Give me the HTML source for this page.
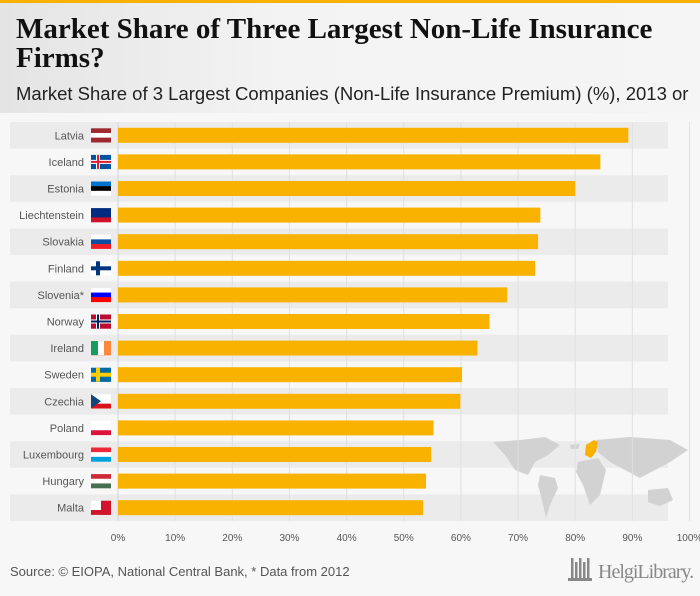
<!DOCTYPE html>
<html><head><meta charset="utf-8"><style>
body{margin:0;width:700px;height:596px;overflow:hidden;background:#f7f7f7;font-family:"Liberation Sans",sans-serif;position:relative}
#hdr{position:absolute;left:0;top:0;width:700px;height:113px;background:linear-gradient(90deg,#e4e4e4,#f3f3f3 40%,#f5f5f5);border-top:3px solid #f9b200;box-sizing:border-box}
h1{position:absolute;left:16px;top:12px;margin:0;font:bold 29px/29px "Liberation Serif",serif;color:#111;width:670px}
#sub{position:absolute;left:16px;top:80px;font-size:18.5px;color:#222;white-space:nowrap}
#foot{position:absolute;left:10px;top:564px;font-size:13px;color:#555}
#logo{position:absolute;left:598px;top:561px;font:20px "Liberation Serif",serif;color:#888;letter-spacing:-1px;white-space:nowrap}
</style></head><body>
<div id="hdr">
<h1>Market Share of Three Largest Non-Life Insurance Firms?</h1>
<div id="sub">Market Share of 3 Largest Companies (Non-Life Insurance Premium) (%), 2013 or</div>
</div>
<svg id="chart" width="700" height="596" style="position:absolute;left:0;top:0"></svg>
<div id="foot">Source: © EIOPA, National Central Bank, * Data from 2012</div>
<div id="logo">HelgiLibrary.</div>
<script>
const categories=["Latvia","Iceland","Estonia","Liechtenstein","Slovakia","Finland","Slovenia*","Norway","Ireland","Sweden","Czechia","Poland","Luxembourg","Hungary","Malta"];
const values=[89.3,84.4,80.0,73.9,73.5,73.0,68.1,65.0,62.9,60.2,59.9,55.2,54.8,53.9,53.4];
const ticks=[0,10,20,30,40,50,60,70,80,90,100];
const flags=[["#9e2a2f","#fff","#9e2a2f"],["#02529c","#02529c","#02529c"],["#0072ce","#000","#fff"],["#002b7f","#002b7f","#ce1126"],["#fff","#0b4ea2","#ee1c25"],["#fff","#fff","#fff"],["#fff","#0000ff","#ff0000"],["#ba0c2f","#ba0c2f","#ba0c2f"],["#169b62","#fff","#ff883e"],["#006aa7","#006aa7","#006aa7"],["#fff","#fff","#d7141a"],["#fff","#fff","#dc143c"],["#ed2939","#fff","#00a1de"],["#ce2939","#fff","#477050"],["#fff","#fff","#cf142b"]];
const svg=document.getElementById('chart');const NS="http://www.w3.org/2000/svg";
const x=v=>118+v*5.715;const y=i=>122+i*26.6;
function mk(t,a,p){const e=document.createElementNS(NS,t);for(const k in a)e.setAttribute(k,a[k]);(p||svg).appendChild(e);return e;}
categories.forEach((c,i)=>{if(i%2==0){const r=mk('rect',{x:10,y:y(i),width:658,height:26.6,fill:'#ebebeb'});

}});
const g=mk('g',{fill:'#d2d2d2'});


mk('path',{d:"M493,442 L520,440 L545,437 L560,445 L548,455 L535,462 L528,475 L515,470 L505,455 Z"},g);
mk('path',{d:"M540,475 L555,478 L558,488 L550,505 L546,518 L542,500 L538,485 Z"},g);
mk('path',{d:"M578,462 L598,458 L606,470 L600,495 L590,505 L583,485 L576,472 Z"},g);
mk('path',{d:"M596,440 L630,437 L670,440 L688,450 L670,462 L655,470 L640,478 L625,470 L610,462 L598,452 Z"},g);
mk('path',{d:"M648,490 L668,488 L673,500 L660,506 L648,502 Z"},g);
mk('path',{d:"M570,445 L580,444 L578,449 L571,449 Z"},g);
mk('path',{d:"M586,445 L594,440 L598,442 L596,452 L591,458 L585,455 Z",fill:'#f9b200'});
ticks.forEach(t=>{const l=mk('line',{x1:x(t),x2:x(t),y1:122,y2:521,stroke:t==0?'#cdd6e6':'#e0e0e0','stroke-width':1});


const tx=mk('text',{x:x(t),y:541,'text-anchor':'middle','font-size':10,fill:'#555'});tx.textContent=t+'%';

});
categories.forEach((c,i)=>{const yc=y(i)+13.3;
const t=mk('text',{x:84,y:yc+4,'text-anchor':'end','font-size':11,fill:'#555'});t.textContent=c;


const f=flags[i];for(let k=0;k<3;k++)mk('rect',{x:91,y:yc-7+k*14/3,width:20,height:14/3+0.2,fill:f[k]});
if(i==1||i==7||i==9||i==5){const cc=i==9?'#fecc00':i==5?'#003580':'#fff';mk('rect',{x:96,y:yc-7,width:4,height:14,fill:cc});mk('rect',{x:91,y:yc-2,width:20,height:4,fill:cc});if(i!=9&&i!=5){mk('rect',{x:97,y:yc-7,width:2,height:14,fill:i==1?'#dc1e35':'#00205b'});mk('rect',{x:91,y:yc-1,width:20,height:2,fill:i==1?'#dc1e35':'#00205b'});}}
if(i==8){mk('rect',{x:91,y:yc-7,width:7,height:14,fill:'#169b62'});mk('rect',{x:98,y:yc-7,width:6,height:14,fill:'#fff'});mk('rect',{x:104,y:yc-7,width:7,height:14,fill:'#ff883e'});}
if(i==10)mk('path',{d:`M91,${yc-7} L101,${yc} L91,${yc+7}Z`,fill:'#11457e'});
if(i==14)mk('rect',{x:101,y:yc-7,width:10,height:14,fill:'#cf142b'});
const b=mk('rect',{x:x(0),y:yc-7.5,width:x(values[i])-x(0),height:15,fill:'#f9b200'});

});
const lg=mk('g',{fill:'#888'});


[0,4,8,12,16].forEach((d,k)=>mk('rect',{x:571+d,y:566-(k%2?4:8),width:2.5,height:14+(k%2?4:8)},lg));
mk('rect',{x:568,y:578,width:24,height:3},lg);
</script>
</body></html>
